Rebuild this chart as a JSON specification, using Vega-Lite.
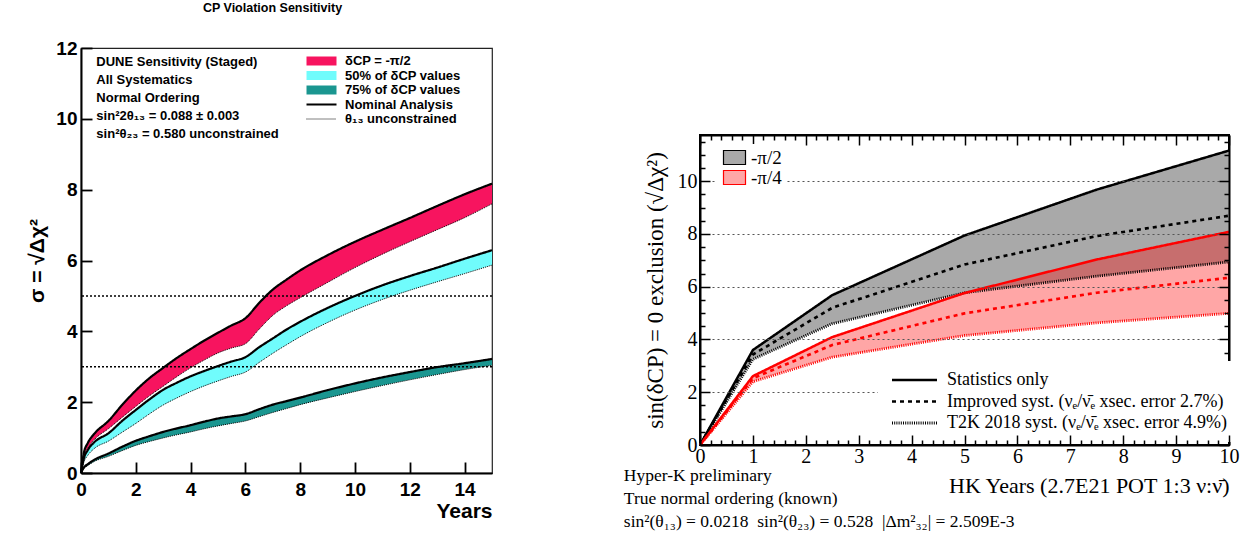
{
  "$schema": "https://vega.github.io/schema/vega-lite/v6.json",
  "background": "white",
  "padding": {"left": 26, "top": 0, "right": 0, "bottom": 0},
  "spacing": 125,
  "resolve": {
    "scale": {"fill": "independent", "stroke": "independent", "strokeDash": "independent", "strokeWidth": "independent"},
    "legend": {"fill": "independent", "strokeDash": "independent"}
  },
  "datasets": {
    "dune": [
      {"s": "δCP = -π/2", "t": 0, "nom": 0, "unc": 0},
      {"s": "δCP = -π/2", "t": 0.1, "nom": 0.55, "unc": 0.45},
      {"s": "δCP = -π/2", "t": 0.25, "nom": 0.85, "unc": 0.7},
      {"s": "δCP = -π/2", "t": 0.5, "nom": 1.12, "unc": 0.95},
      {"s": "δCP = -π/2", "t": 1, "nom": 1.47, "unc": 1.25},
      {"s": "δCP = -π/2", "t": 1.5, "nom": 1.92, "unc": 1.57},
      {"s": "δCP = -π/2", "t": 2, "nom": 2.33, "unc": 1.88},
      {"s": "δCP = -π/2", "t": 2.5, "nom": 2.68, "unc": 2.18},
      {"s": "δCP = -π/2", "t": 3, "nom": 2.97, "unc": 2.45},
      {"s": "δCP = -π/2", "t": 3.5, "nom": 3.25, "unc": 2.72},
      {"s": "δCP = -π/2", "t": 4, "nom": 3.5, "unc": 2.97},
      {"s": "δCP = -π/2", "t": 4.5, "nom": 3.74, "unc": 3.19},
      {"s": "δCP = -π/2", "t": 5, "nom": 3.96, "unc": 3.39},
      {"s": "δCP = -π/2", "t": 5.5, "nom": 4.17, "unc": 3.53},
      {"s": "δCP = -π/2", "t": 6, "nom": 4.37, "unc": 3.65},
      {"s": "δCP = -π/2", "t": 6.5, "nom": 4.8, "unc": 4.06},
      {"s": "δCP = -π/2", "t": 7, "nom": 5.18, "unc": 4.45},
      {"s": "δCP = -π/2", "t": 7.5, "nom": 5.46, "unc": 4.72},
      {"s": "δCP = -π/2", "t": 8, "nom": 5.72, "unc": 4.95},
      {"s": "δCP = -π/2", "t": 9, "nom": 6.15, "unc": 5.38},
      {"s": "δCP = -π/2", "t": 10, "nom": 6.53, "unc": 5.8},
      {"s": "δCP = -π/2", "t": 11, "nom": 6.87, "unc": 6.18},
      {"s": "δCP = -π/2", "t": 12, "nom": 7.2, "unc": 6.53},
      {"s": "δCP = -π/2", "t": 13, "nom": 7.54, "unc": 6.87},
      {"s": "δCP = -π/2", "t": 14, "nom": 7.87, "unc": 7.21},
      {"s": "δCP = -π/2", "t": 15, "nom": 8.17, "unc": 7.6},
      {"s": "50% of δCP values", "t": 0, "nom": 0, "unc": 0},
      {"s": "50% of δCP values", "t": 0.1, "nom": 0.4, "unc": 0.3},
      {"s": "50% of δCP values", "t": 0.25, "nom": 0.65, "unc": 0.5},
      {"s": "50% of δCP values", "t": 0.5, "nom": 0.88, "unc": 0.7},
      {"s": "50% of δCP values", "t": 1, "nom": 1.12, "unc": 0.9},
      {"s": "50% of δCP values", "t": 1.5, "nom": 1.47, "unc": 1.15},
      {"s": "50% of δCP values", "t": 2, "nom": 1.78, "unc": 1.4},
      {"s": "50% of δCP values", "t": 2.5, "nom": 2.08, "unc": 1.67},
      {"s": "50% of δCP values", "t": 3, "nom": 2.35, "unc": 1.92},
      {"s": "50% of δCP values", "t": 3.5, "nom": 2.55, "unc": 2.12},
      {"s": "50% of δCP values", "t": 4, "nom": 2.73, "unc": 2.3},
      {"s": "50% of δCP values", "t": 4.5, "nom": 2.88, "unc": 2.46},
      {"s": "50% of δCP values", "t": 5, "nom": 3.02, "unc": 2.6},
      {"s": "50% of δCP values", "t": 5.5, "nom": 3.15, "unc": 2.73},
      {"s": "50% of δCP values", "t": 6, "nom": 3.27, "unc": 2.85},
      {"s": "50% of δCP values", "t": 6.5, "nom": 3.55, "unc": 3.12},
      {"s": "50% of δCP values", "t": 7, "nom": 3.8, "unc": 3.38},
      {"s": "50% of δCP values", "t": 7.5, "nom": 4.05, "unc": 3.62},
      {"s": "50% of δCP values", "t": 8, "nom": 4.27, "unc": 3.85},
      {"s": "50% of δCP values", "t": 9, "nom": 4.66, "unc": 4.25},
      {"s": "50% of δCP values", "t": 10, "nom": 5.0, "unc": 4.6},
      {"s": "50% of δCP values", "t": 11, "nom": 5.3, "unc": 4.9},
      {"s": "50% of δCP values", "t": 12, "nom": 5.56, "unc": 5.16},
      {"s": "50% of δCP values", "t": 13, "nom": 5.8, "unc": 5.4},
      {"s": "50% of δCP values", "t": 14, "nom": 6.05, "unc": 5.63},
      {"s": "50% of δCP values", "t": 15, "nom": 6.29, "unc": 5.87},
      {"s": "75% of δCP values", "t": 0, "nom": 0, "unc": 0},
      {"s": "75% of δCP values", "t": 0.1, "nom": 0.15, "unc": 0.12},
      {"s": "75% of δCP values", "t": 0.25, "nom": 0.25, "unc": 0.21},
      {"s": "75% of δCP values", "t": 0.5, "nom": 0.38, "unc": 0.33},
      {"s": "75% of δCP values", "t": 1, "nom": 0.55, "unc": 0.47},
      {"s": "75% of δCP values", "t": 1.5, "nom": 0.74, "unc": 0.63},
      {"s": "75% of δCP values", "t": 2, "nom": 0.91, "unc": 0.78},
      {"s": "75% of δCP values", "t": 2.5, "nom": 1.04, "unc": 0.89},
      {"s": "75% of δCP values", "t": 3, "nom": 1.16, "unc": 0.99},
      {"s": "75% of δCP values", "t": 3.5, "nom": 1.26, "unc": 1.08},
      {"s": "75% of δCP values", "t": 4, "nom": 1.35, "unc": 1.16},
      {"s": "75% of δCP values", "t": 4.5, "nom": 1.45, "unc": 1.25},
      {"s": "75% of δCP values", "t": 5, "nom": 1.54, "unc": 1.33},
      {"s": "75% of δCP values", "t": 5.5, "nom": 1.6, "unc": 1.4},
      {"s": "75% of δCP values", "t": 6, "nom": 1.66, "unc": 1.47},
      {"s": "75% of δCP values", "t": 6.5, "nom": 1.8, "unc": 1.59},
      {"s": "75% of δCP values", "t": 7, "nom": 1.93, "unc": 1.71},
      {"s": "75% of δCP values", "t": 7.5, "nom": 2.03, "unc": 1.82},
      {"s": "75% of δCP values", "t": 8, "nom": 2.13, "unc": 1.93},
      {"s": "75% of δCP values", "t": 9, "nom": 2.34, "unc": 2.12},
      {"s": "75% of δCP values", "t": 10, "nom": 2.53, "unc": 2.3},
      {"s": "75% of δCP values", "t": 11, "nom": 2.7, "unc": 2.47},
      {"s": "75% of δCP values", "t": 12, "nom": 2.85, "unc": 2.63},
      {"s": "75% of δCP values", "t": 13, "nom": 2.99, "unc": 2.78},
      {"s": "75% of δCP values", "t": 14, "nom": 3.1, "unc": 2.92},
      {"s": "75% of δCP values", "t": 15, "nom": 3.22, "unc": 3.04}
    ],
    "hk": [
      {"s": "-π/2", "t": 0, "stat": 0, "impr": 0, "t2k": 0},
      {"s": "-π/2", "t": 1, "stat": 3.6, "impr": 3.43, "t2k": 3.25},
      {"s": "-π/2", "t": 2.5, "stat": 5.68, "impr": 5.2, "t2k": 4.6},
      {"s": "-π/2", "t": 5, "stat": 7.94, "impr": 6.84, "t2k": 5.77},
      {"s": "-π/2", "t": 7.5, "stat": 9.68, "impr": 7.92, "t2k": 6.4},
      {"s": "-π/2", "t": 10, "stat": 11.16, "impr": 8.69, "t2k": 6.94},
      {"s": "-π/4", "t": 0, "stat": 0, "impr": 0, "t2k": 0},
      {"s": "-π/4", "t": 1, "stat": 2.61, "impr": 2.53, "t2k": 2.4},
      {"s": "-π/4", "t": 2.5, "stat": 4.09, "impr": 3.79, "t2k": 3.33},
      {"s": "-π/4", "t": 5, "stat": 5.76, "impr": 4.99, "t2k": 4.15},
      {"s": "-π/4", "t": 7.5, "stat": 7.03, "impr": 5.77, "t2k": 4.63},
      {"s": "-π/4", "t": 10, "stat": 8.08, "impr": 6.34, "t2k": 4.99}
    ]
  },
  "hconcat": [
    {
      "width": 411,
      "height": 425,
      "title": {"text": "CP Violation Sensitivity", "font": "Liberation Sans", "fontWeight": "bold", "fontSize": 12.5, "color": "black", "anchor": "middle", "dx": -14, "offset": 25},
      "view": {"stroke": "#222222", "strokeWidth": 1.2},
      "layer": [
        {
          "data": {"name": "dune"},
          "mark": {"type": "area", "interpolate": "monotone"},
          "encoding": {
            "x": {"field": "t", "type": "quantitative", "scale": {"domain": [0, 15]},
              "axis": {"orient": "bottom", "values": [0,0.5,1,1.5,2,2.5,3,3.5,4,4.5,5,5.5,6,6.5,7,7.5,8,8.5,9,9.5,10,10.5,11,11.5,12,12.5,13,13.5,14,14.5,15],
                "tickSize": {"condition": {"test": "datum.value % 2 === 0", "value": -11}, "value": -5.5},
                "tickWidth": 1.8, "domainWidth": 2,
                "labelExpr": "datum.value % 2 === 0 ? format(datum.value, 'd') : ''",
                "labelFont": "Liberation Sans", "labelFontWeight": "bold", "labelFontSize": 19, "labelPadding": 18, "labelBaseline": "top",
                "title": "Years", "titleFont": "Liberation Sans", "titleFontWeight": "bold", "titleFontSize": 21, "titleAnchor": "end", "titleAlign": "right", "titlePadding": 1, "zindex": 3}},
            "y": {"field": "unc", "type": "quantitative", "stack": null, "scale": {"domain": [0, 12]},
              "axis": {"orient": "left", "values": [0,0.5,1,1.5,2,2.5,3,3.5,4,4.5,5,5.5,6,6.5,7,7.5,8,8.5,9,9.5,10,10.5,11,11.5,12],
                "tickSize": {"condition": {"test": "datum.value % 2 === 0", "value": -11}, "value": -5.5},
                "tickWidth": 1.8, "domainWidth": 2,
                "labelExpr": "datum.value % 2 === 0 ? format(datum.value, 'd') : ''",
                "labelFont": "Liberation Sans", "labelFontWeight": "bold", "labelFontSize": 19, "labelPadding": 15,
                "title": "σ = √Δχ²", "titleFont": "Liberation Sans", "titleFontWeight": "bold", "titleFontSize": 21, "titlePadding": 8, "zindex": 3}},
            "y2": {"field": "nom"},
            "fill": {"field": "s", "type": "nominal",
              "scale": {"domain": ["δCP = -π/2", "50% of δCP values", "75% of δCP values"], "range": ["#f7145f", "#70fcfc", "#1a9690"]},
              "legend": {"title": null, "orient": "none", "direction": "vertical", "legendX": 224, "legendY": 6.5, "padding": 0,
                "symbolType": "M-1,-0.9H5V0.9H-1Z", "symbolSize": 100, "symbolStrokeWidth": 0, "symbolOpacity": 1,
                "labelFont": "Liberation Sans", "labelFontWeight": "bold", "labelFontSize": 13, "labelColor": "black", "labelOffset": 27, "labelLimit": 400, "rowPadding": 0.5}}
          }
        },
        {
          "data": {"name": "dune"},
          "transform": [{"fold": ["nom", "unc"], "as": ["an", "v"]}],
          "mark": {"type": "line", "interpolate": "monotone", "color": "black"},
          "encoding": {
            "x": {"field": "t", "type": "quantitative", "scale": {"domain": [0, 15]}},
            "y": {"field": "v", "type": "quantitative", "scale": {"domain": [0, 12]}},
            "detail": {"field": "s", "type": "nominal"},
            "strokeWidth": {"field": "an", "type": "ordinal", "scale": {"domain": ["nom", "unc"], "range": [2.2, 1]}, "legend": null},
            "strokeDash": {"field": "an", "type": "nominal", "scale": {"domain": ["nom", "unc"], "range": [[1, 0], [1, 1]]},
              "legend": {"title": null, "orient": "none", "direction": "vertical", "legendX": 224, "legendY": 50, "padding": 0,
                "symbolType": "M-1,0H5", "symbolSize": 100, "symbolStrokeColor": "black", "symbolFillColor": "transparent", "symbolStrokeWidth": 2,
                "labelExpr": "datum.value === 'nom' ? 'Nominal Analysis' : 'θ₁₃ unconstrained'",
                "labelFont": "Liberation Sans", "labelFontWeight": "bold", "labelFontSize": 13, "labelColor": "black", "labelOffset": 27, "labelLimit": 400, "rowPadding": 0.5,
                "encode": {"symbols": {"update": {"strokeWidth": {"signal": "datum.value === 'nom' ? 2.2 : 1"}}}}}}
          }
        },
        {
          "data": {"values": [{"sigma": 3}, {"sigma": 5}]},
          "mark": {"type": "rule", "color": "black", "strokeDash": [2, 2], "strokeWidth": 1.5},
          "encoding": {
            "y": {"field": "sigma", "type": "quantitative", "scale": {"domain": [0, 12]}}
          }
        },
        {
          "data": {"values": [{"note": "DUNE Sensitivity (Staged)\nAll Systematics\nNormal Ordering\nsin²2θ₁₃ = 0.088 ± 0.003\nsin²θ₂₃ = 0.580 unconstrained"}]},
          "mark": {"type": "text", "align": "left", "baseline": "top", "font": "Liberation Sans", "fontWeight": "bold", "fontSize": 13, "lineBreak": "\n", "lineHeight": 18, "color": "black"},
          "encoding": {
            "x": {"datum": 0.56, "type": "quantitative", "scale": {"domain": [0, 15]}},
            "y": {"datum": 11.78, "type": "quantitative", "scale": {"domain": [0, 12]}},
            "text": {"field": "note", "type": "nominal"}
          }
        }
      ]
    },
    {
      "spacing": 0,
      "resolve": {
        "scale": {"fill": "independent", "stroke": "independent", "strokeDash": "independent", "strokeWidth": "independent"},
        "legend": {"fill": "independent", "strokeDash": "independent"}
      },
      "vconcat": [
        {
          "width": 10,
          "height": 82,
          "view": {"stroke": null},
          "data": {"values": []},
          "mark": "point"
        },
        {
          "width": 529,
          "height": 310,
          "view": {"stroke": "black", "strokeWidth": 2},
          "layer": [
            {
              "data": {"name": "hk"},
              "mark": {"type": "area"},
              "encoding": {
                "x": {"field": "t", "type": "quantitative", "scale": {"domain": [0, 10]},
                  "axis": {"orient": "bottom", "values": [0,0.2,0.4,0.6,0.8,1,1.2,1.4,1.6,1.8,2,2.2,2.4,2.6,2.8,3,3.2,3.4,3.6,3.8,4,4.2,4.4,4.6,4.8,5,5.2,5.4,5.6,5.8,6,6.2,6.4,6.6,6.8,7,7.2,7.4,7.6,7.8,8,8.2,8.4,8.6,8.8,9,9.2,9.4,9.6,9.8,10],
                    "tickSize": {"condition": {"test": "datum.value % 1 === 0", "value": -10}, "value": -5},
                    "tickWidth": 1.5, "domainWidth": 2,
                    "labelExpr": "datum.value % 1 === 0 ? format(datum.value, 'd') : ''",
                    "labelFont": "Liberation Serif", "labelFontSize": 20, "labelPadding": 11, "labelBaseline": "top",
                    "title": "HK Years (2.7E21 POT 1:3 ν:ν̄)", "titleFont": "Liberation Serif", "titleFontWeight": "normal", "titleFontSize": 22, "titleAnchor": "end", "titleAlign": "right", "titlePadding": 4, "zindex": 3}},
                "y": {"field": "t2k", "type": "quantitative", "stack": null, "scale": {"domain": [0, 11.75]},
                  "axis": {"orient": "left", "values": [0,0.5,1,1.5,2,2.5,3,3.5,4,4.5,5,5.5,6,6.5,7,7.5,8,8.5,9,9.5,10,10.5,11,11.5],
                    "tickSize": {"condition": {"test": "datum.value % 2 === 0", "value": -10}, "value": -5},
                    "tickWidth": 1.5, "domainWidth": 2,
                    "labelExpr": "datum.value % 2 === 0 ? format(datum.value, 'd') : ''",
                    "labelFont": "Liberation Serif", "labelFontSize": 20, "labelPadding": 13,
                    "title": "sin(δCP) = 0 exclusion (√Δχ²)", "titleFont": "Liberation Serif", "titleFontWeight": "normal", "titleFontSize": 23, "titlePadding": 10, "zindex": 3}},
                "y2": {"field": "stat"},
                "fill": {"field": "s", "type": "nominal",
                  "scale": {"domain": ["-π/2", "-π/4"], "range": ["#a9a9a9", "rgba(255,0,0,0.35)"]},
                  "legend": {"title": null, "orient": "none", "direction": "vertical", "legendX": 15, "legendY": 9, "padding": 4, "fillColor": "white", "zindex": 2,
                    "symbolType": "M-1,-1.4H3.4V1.4H-1Z", "symbolSize": 100, "symbolStrokeWidth": 1.2, "symbolOpacity": 1,
                    "labelFont": "Liberation Serif", "labelFontSize": 19, "labelColor": "black", "labelOffset": 13, "rowPadding": 0,
                    "encode": {"symbols": {"update": {"stroke": {"signal": "datum.value === '-π/2' ? 'black' : 'red'"}}}}}}
              }
            },
            {
              "data": {"name": "hk"},
              "transform": [{"fold": ["stat", "impr", "t2k"], "as": ["sys", "v"]}],
              "mark": {"type": "line"},
              "encoding": {
                "x": {"field": "t", "type": "quantitative", "scale": {"domain": [0, 10]},
                  "axis": {"orient": "top", "values": [0,0.2,0.4,0.6,0.8,1,1.2,1.4,1.6,1.8,2,2.2,2.4,2.6,2.8,3,3.2,3.4,3.6,3.8,4,4.2,4.4,4.6,4.8,5,5.2,5.4,5.6,5.8,6,6.2,6.4,6.6,6.8,7,7.2,7.4,7.6,7.8,8,8.2,8.4,8.6,8.8,9,9.2,9.4,9.6,9.8,10],
                    "tickSize": {"condition": {"test": "datum.value % 1 === 0", "value": -10}, "value": -5},
                    "tickWidth": 1.5, "domainWidth": 2, "labels": false, "title": null, "zindex": 1}},
                "y": {"field": "v", "type": "quantitative", "scale": {"domain": [0, 11.75]},
                  "axis": {"orient": "right", "values": [0,0.5,1,1.5,2,2.5,3,3.5,4,4.5,5,5.5,6,6.5,7,7.5,8,8.5,9,9.5,10,10.5,11,11.5],
                    "tickSize": {"condition": {"test": "datum.value % 2 === 0", "value": -10}, "value": -5},
                    "tickWidth": 1.5, "domainWidth": 2, "labels": false, "title": null, "zindex": 1,
                    "grid": true, "gridColor": "#555555", "gridDash": [2, 3], "gridWidth": 1.2,
                    "gridOpacity": {"condition": {"test": "datum.value % 2 === 0 && datum.value > 0", "value": 1}, "value": 0}}},
                "detail": {"field": "s", "type": "nominal"},
                "stroke": {"field": "s", "type": "nominal", "scale": {"domain": ["-π/2", "-π/4"], "range": ["black", "red"]}, "legend": null},
                "strokeWidth": {"field": "sys", "type": "ordinal", "scale": {"domain": ["stat", "impr", "t2k"], "range": [2.5, 2.8, 2]}, "legend": null},
                "strokeDash": {"field": "sys", "type": "nominal", "scale": {"domain": ["stat", "impr", "t2k"], "range": [[1, 0], [4, 4], [1, 1.2]]},
                  "legend": {"title": null, "orient": "none", "direction": "vertical", "legendX": 178, "legendY": 226, "padding": 10, "fillColor": "white", "zindex": 2,
                    "symbolType": "M-1,0H8", "symbolSize": 100, "symbolStrokeColor": "black", "symbolFillColor": "transparent", "symbolStrokeWidth": 3,
                    "labelExpr": "datum.value === 'stat' ? 'Statistics only' : datum.value === 'impr' ? 'Improved syst. (νₑ/ν̄ₑ xsec. error 2.7%)' : 'T2K 2018 syst. (νₑ/ν̄ₑ xsec. error 4.9%)'",
                    "labelFont": "Liberation Serif", "labelFontSize": 18, "labelColor": "black", "labelOffset": 41, "labelLimit": 500, "rowPadding": 3.5,
                    "encode": {"symbols": {"update": {"strokeWidth": {"signal": "datum.value === 't2k' ? 1.5 : 3"}}}}}}
              }
            },
            {
              "data": {"values": [{"note": "Hyper-K preliminary\nTrue normal ordering (known)\nsin²(θ₁₃) = 0.0218 \u00a0sin²(θ₂₃) = 0.528 \u00a0|Δm²₃₂| = 2.509E-3"}]},
              "mark": {"type": "text", "align": "left", "baseline": "top", "font": "Liberation Serif", "fontSize": 17.5, "lineBreak": "\n", "lineHeight": 23, "color": "black"},
              "encoding": {
                "x": {"datum": -1.44, "type": "quantitative", "scale": {"domain": [0, 10]}, "axis": null},
                "y": {"datum": -0.84, "type": "quantitative", "scale": {"domain": [0, 11.75]}, "axis": null},
                "text": {"field": "note", "type": "nominal"}
              }
            }
          ],
          "resolve": {"axis": {"x": "independent", "y": "independent"}}
        }
      ]
    }
  ],
  "config": {
    "view": {"stroke": "black"},
    "axis": {"domainColor": "black", "tickColor": "black", "labelColor": "black", "titleColor": "black", "labelOverlap": false, "labelFlush": false, "grid": false}
  }
}
